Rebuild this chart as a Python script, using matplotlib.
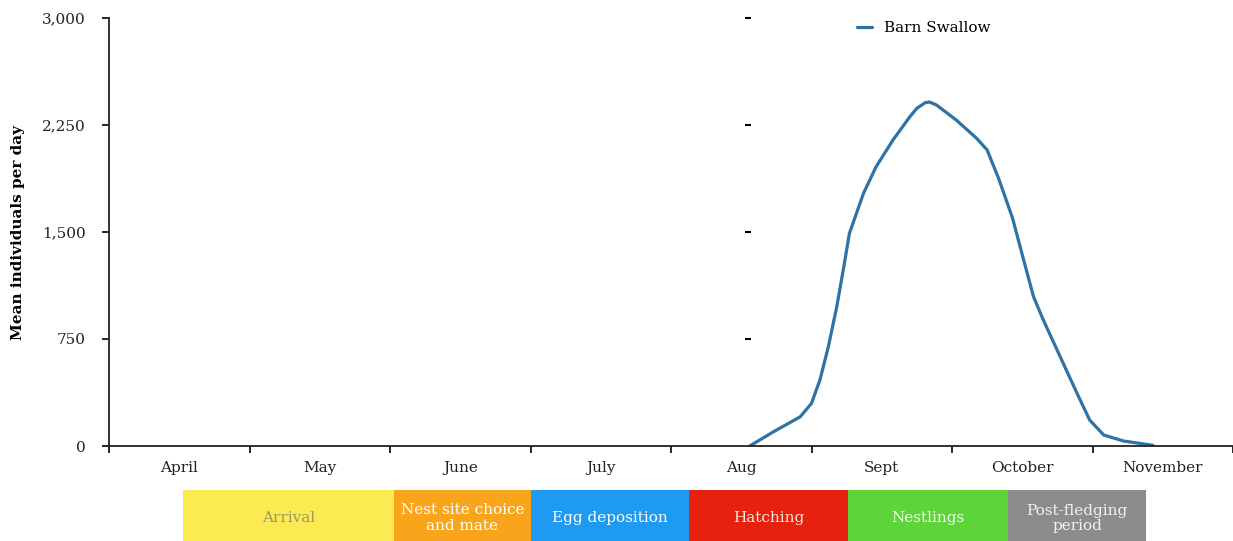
import numpy as np
import matplotlib
matplotlib.use('Agg')
import matplotlib.pyplot as plt

#%% data

months = ['April', 'May', 'June', 'July', 'Aug', 'Sept', 'October', 'November']

# month units, 0 = start of April
x_swallow = [4.56, 4.73, 4.92, 5.00, 5.06, 5.12, 5.18, 5.23, 5.27, 5.345, 5.37,
             5.46, 5.58, 5.70, 5.75, 5.81, 5.84, 5.89, 6.03, 6.175, 6.25, 6.33,
             6.43, 6.51, 6.58, 6.65, 6.77, 6.89, 6.98, 7.08, 7.22, 7.43]
y_swallow = [0, 100, 205, 299, 463, 696, 977, 1257, 1491, 1701, 1771,
             1958, 2145, 2308, 2367, 2407, 2411, 2390, 2285, 2157, 2075, 1880,
             1600, 1304, 1047, 883, 626, 369, 182, 77, 35, 5]

phases = ['Arrival', 'Nest site choice\nand mate', 'Egg deposition', 'Hatching', 'Nestlings', 'Post-fledging\nperiod']
phase_start = [0.527, 2.03, 3.00, 4.13, 5.26, 6.40]
phase_end = [2.03, 3.00, 4.13, 5.26, 6.40, 7.38]
phase_color = ['#FBEA52', '#F8A51C', '#1E9BF0', '#E8200E', '#5DD43A', '#8C8C8C']
phase_text = ['#9A9A60', 'white', 'white', '#F6E6E0', '#F0FFE8', '#F2F2F2']

yticks = [0, 750, 1500, 2250, 3000]

#%% figure

plt.rcParams['font.family'] = ['DejaVu Serif']

fig = plt.figure(figsize=(12.33, 5.41), dpi=100)
ax = fig.add_axes([109/1233, 95/541, 1124/1233, 428/541])

ax.plot(x_swallow, y_swallow, color='#2E72A6', lw=2.3, label='Barn Swallow',
        solid_capstyle='round', solid_joinstyle='round')

ax.set_xlim(0, 8)
ax.set_ylim(0, 3000)
ax.set_xticks(np.arange(0, 9))
ax.set_xticklabels([])
ax.set_xticks(np.arange(len(months)) + 0.5, minor=True)
ax.set_xticklabels(months, minor=True, fontsize=11, color='#222222')
ax.tick_params(axis='x', which='minor', length=0, pad=11)
ax.tick_params(axis='x', which='major', length=5, width=1.2)
ax.set_yticks(yticks)
ax.set_yticklabels(['{:,}'.format(v) for v in yticks], fontsize=11, color='#222222')
ax.tick_params(axis='y', length=5, width=1.2, pad=12)

for s in ['top', 'right']:
    ax.spines[s].set_visible(False)
for s in ['left', 'bottom']:
    ax.spines[s].set_linewidth(1.3)
    ax.spines[s].set_color('#222222')

ax.set_ylabel('Mean individuals per day', fontsize=11, fontweight='bold', labelpad=12)

# stray tick dashes in the middle of the plot
ax2 = ax.secondary_yaxis((748-109)/1124)
ax2.spines['right'].set_visible(False)
ax2.spines['left'].set_visible(False)
ax2.set_yticks(yticks[1:])
ax2.tick_params(direction='inout', length=5, width=1.5, labelleft=False, labelright=False)

leg = ax.legend(loc='upper left', bbox_to_anchor=(0.653, 1.025), frameon=False,
                fontsize=11, handlelength=1.0, handletextpad=0.8)

#%% phase bar

axp = fig.add_axes([109/1233, 0, 1124/1233, 51/541])
axp.set_xlim(0, 8)
axp.set_ylim(0, 1)
axp.axis('off')
for k in range(len(phases)):
    axp.barh(0.5, phase_end[k]-phase_start[k], left=phase_start[k], height=1.0,
             color=phase_color[k], edgecolor='none')
    axp.text((phase_start[k]+phase_end[k])/2, 0.45, phases[k], ha='center', va='center',
             fontsize=11, color=phase_text[k], linespacing=1.1)

fig.savefig('out.png', dpi=100)
